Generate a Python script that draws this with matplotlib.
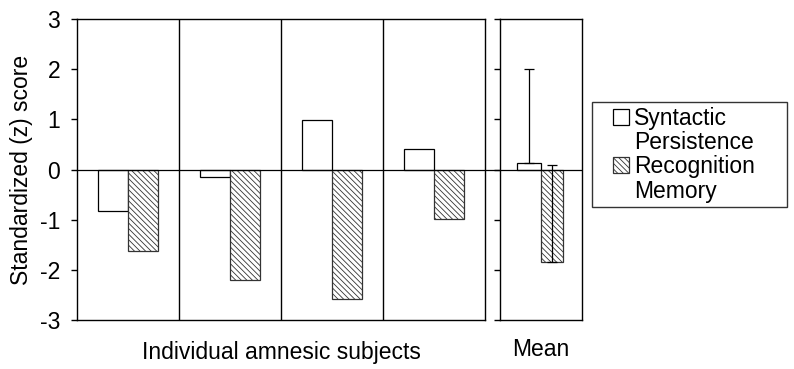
import matplotlib
matplotlib.use("Agg")
import matplotlib.pyplot as plt
import numpy as np
from matplotlib.patches import Patch, Rectangle
from matplotlib.legend_handler import HandlerPatch

plt.rcParams["font.family"] = ["Liberation Sans", "DejaVu Sans"]
plt.rcParams["hatch.linewidth"] = 0.6
plt.rcParams["hatch.color"] = "#444444"

# values
subjects = ["S1", "S2", "S3", "S4"]
syntactic = [-0.83, -0.14, 0.98, 0.40]
recognition = [-1.62, -2.20, -2.58, -0.98]
mean_syntactic = 0.12
mean_recognition = -1.84
mean_syntactic_err = 1.88
mean_recognition_err = 1.93
yticks = [-3, -2, -1, 0, 1, 2, 3]
legend_lines = ["Syntactic", "Persistence", "Recognition", "Memory"]

W, H = 794, 369
fig = plt.figure(figsize=(W / 100, H / 100), dpi=100)
ax = fig.add_axes([77 / W, 1 - 320 / H, 408 / W, 301 / H])
axm = fig.add_axes([500 / W, 1 - 320 / H, 82 / W, 301 / H])

bw = 0.29
hatch = "\\\\\\\\\\\\"
fs = 16.5
ekw = dict(ecolor="black", elinewidth=0.9, capsize=3.4, capthick=0.9)

x = np.arange(len(subjects)) + 0.5
ax.bar(x - bw / 2, syntactic, bw, color="white", edgecolor="black", linewidth=0.9)
ax.bar(x + bw / 2, recognition, bw, color="white", edgecolor="#333333", linewidth=0.9, hatch=hatch)
for i in range(1, len(subjects)):
    ax.axvline(i, color="black", linewidth=1.0)
ax.set_xlim(0, len(subjects))
ax.set_ylim(-3, 3)
ax.set_yticks(yticks)
ax.set_yticklabels([str(t) for t in yticks], fontsize=fs)
ax.set_xticks([])
ax.tick_params(axis="y", direction="out", length=4, width=1, pad=8)
ax.set_ylabel("Standardized (z) score", fontsize=fs, labelpad=5)
ax.set_xlabel("Individual amnesic subjects", fontsize=fs, labelpad=15)
# zero line, carried across the gap to the mean panel
gap = (500 - 485) / 408
ax.axhline(0, xmin=0, xmax=1 + gap, color="black", linewidth=0.9, clip_on=False)

xm = np.array([0.5])
axm.bar(xm - 0.145, [mean_syntactic], 0.29, color="white", edgecolor="black", linewidth=0.9,
        yerr=[[0], [mean_syntactic_err]], error_kw=ekw)
axm.bar(xm + 0.135, [mean_recognition], 0.27, color="white", edgecolor="#333333", linewidth=0.9, hatch=hatch,
        yerr=[[0], [mean_recognition_err]], error_kw=ekw)
axm.axhline(0, color="black", linewidth=0.9)
axm.set_xlim(0, 1)
axm.set_ylim(-3, 3)
axm.set_yticks(yticks)
axm.set_yticklabels([])
axm.set_xticks([])
axm.tick_params(axis="y", direction="out", length=4, width=1)
axm.set_xlabel("Mean", fontsize=fs, labelpad=13)

for a in (ax, axm):
    for s in a.spines.values():
        s.set_linewidth(1.0)


def right_square(legend, orig_handle, xdescent, ydescent, width, height, fontsize):
    # small square sitting at the right end of the handle slot
    s = 0.7 * fontsize
    return Rectangle((-xdescent + width - s, -ydescent + (height - s) / 2), s, s)


blank = Patch(facecolor="none", edgecolor="none")
handles = [Patch(facecolor="white", edgecolor="black", linewidth=0.9), blank,
           Patch(facecolor="white", edgecolor="#333333", linewidth=0.9, hatch=hatch), blank]
leg = fig.legend(handles, legend_lines, loc="upper left",
                 bbox_to_anchor=(592 / W, 1 - 206 / H, 195 / W, 104 / H), bbox_transform=fig.transFigure,
                 mode="expand", borderaxespad=0, fontsize=fs, frameon=True, fancybox=False,
                 handlelength=1.43, handleheight=0.7, handletextpad=0.2, labelspacing=0.06,
                 borderpad=0.2, handler_map={Patch: HandlerPatch(patch_func=right_square)})
leg.get_frame().set_edgecolor("black")
leg.get_frame().set_linewidth(1.0)

fig.savefig("out.png", dpi=100)
